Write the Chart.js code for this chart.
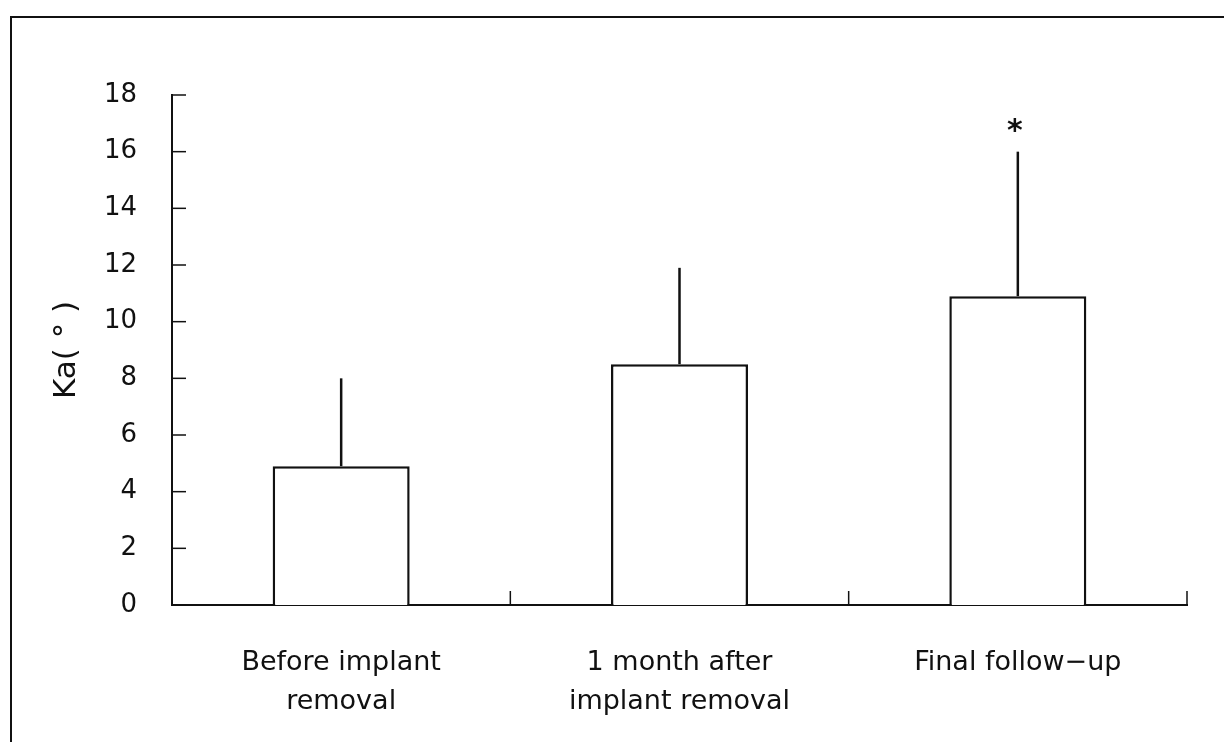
<!DOCTYPE html>
<html>
<head>
<meta charset="utf-8">
<script src="https://cdn.jsdelivr.net/npm/chart.js@4"></script>
<style>
  html,body{margin:0;padding:0;background:#fff;}
  #wrap{position:relative;width:1224px;height:742px;}
  #frame{position:absolute;left:10px;top:16px;right:0;bottom:0;border-top:2px solid #111;border-left:2px solid #111;}
  canvas{position:absolute;left:0;top:0;}
</style>
</head>
<body>
<div id="wrap">
  <div id="frame"></div>
  <canvas id="c" width="1224" height="742"></canvas>
</div>
<script>
/* ===== data ===== */
const cats = [['Before implant','removal'], ['1 month after','implant removal'], ['Final follow\u2212up']];
const means = [4.9, 8.5, 10.9];
const errTop = [8.0, 11.9, 16.0];
const marks = ['', '', '*'];
const yTicks = [0, 2, 4, 6, 8, 10, 12, 14, 16, 18];

const FONT = '"DejaVu Sans", sans-serif';
const PAD_LEFT = 48;

/* inward ticks, error bars, asterisk */
const decor = {
  id:'decor',
  afterDatasetsDraw(chart){
    const {ctx, chartArea:a, scales:{x, y}} = chart;
    ctx.save();
    ctx.strokeStyle = '#111';
    ctx.lineWidth = 2.5;
    // error bars (upper only)
    means.forEach((m,i)=>{
      const px = x.getPixelForValue(i);
      ctx.beginPath();
      ctx.moveTo(px, y.getPixelForValue(m));
      ctx.lineTo(px, y.getPixelForValue(errTop[i]));
      ctx.stroke();
      if(marks[i]){
        ctx.fillStyle = '#111';
        ctx.font = 'bold 30px ' + FONT;
        ctx.textAlign = 'center';
        ctx.textBaseline = 'alphabetic';
        ctx.fillText(marks[i], px - 3, y.getPixelForValue(errTop[i]) - 12);
      }
    });
    // y ticks pointing inward
    ctx.lineWidth = 1.5;
    yTicks.forEach(v=>{
      const py = y.getPixelForValue(v);
      ctx.beginPath(); ctx.moveTo(a.left, py); ctx.lineTo(a.left + 14, py); ctx.stroke();
    });
    // x ticks at category boundaries pointing up
    const w = (a.right - a.left) / cats.length;
    for(let i=1;i<=cats.length;i++){
      const px = a.left + w*i;
      ctx.beginPath(); ctx.moveTo(px, a.bottom); ctx.lineTo(px, a.bottom - 14); ctx.stroke();
    }
    ctx.restore();
  }
};

new Chart(document.getElementById('c'), {
  type:'bar',
  data:{ labels:cats, datasets:[{ data:means, backgroundColor:'#fff', borderColor:'#111', borderWidth:2.5,
    barPercentage:0.405, categoryPercentage:1 }] },
  options:{
    responsive:false, animation:false,
    layout:{ padding:{ left:PAD_LEFT, right:37, top:95, bottom:0 } },
    plugins:{ legend:{display:false}, tooltip:{enabled:false} },
    scales:{
      x:{
        offset:true,
        grid:{ display:false },
        border:{ display:true, color:'#111', width:2 },
        ticks:{ color:'#111', font:{ family:FONT, size:27, lineHeight:1.45 }, padding:30, maxRotation:0, autoSkip:false },
        afterFit(s){ s.height = 137; }
      },
      y:{
        min:0, max:18,
        grid:{ display:false },
        border:{ display:true, color:'#111', width:2 },
        ticks:{ stepSize:2, color:'#111', font:{ family:FONT, size:26 }, padding:27 },
        title:{ display:true, text:'Ka( \u00b0 )', color:'#111', font:{ family:FONT, size:31 }, padding:{top:0,bottom:0} },
        afterFit(s){ s.width = 172 - PAD_LEFT; }
      }
    }
  },
  plugins:[decor]
});
</script>
</body>
</html>
